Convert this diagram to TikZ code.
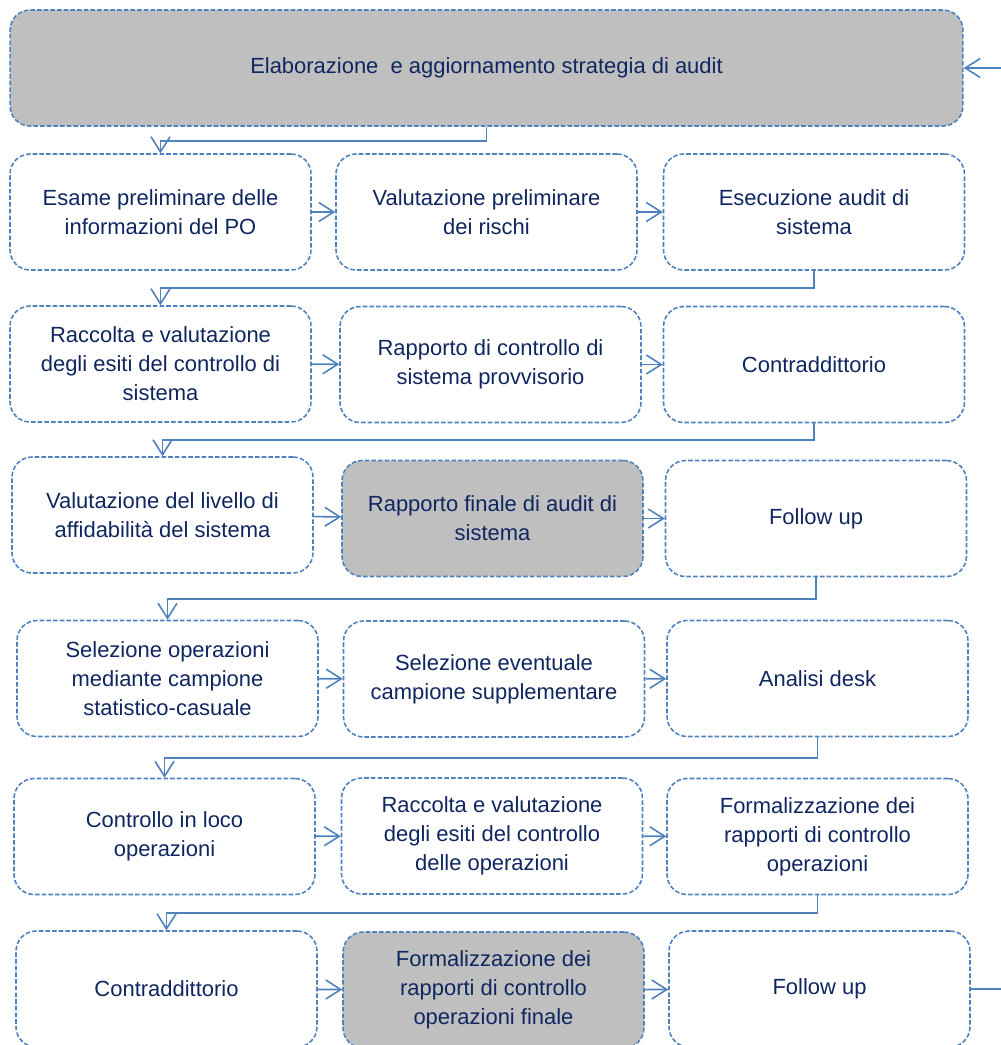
\documentclass[tikz,border=0pt]{standalone}
\usepackage{fontspec}
\setmainfont{Liberation Sans}
\usetikzlibrary{arrows.meta}
\definecolor{boxline}{HTML}{4F81BD}
\definecolor{boxtext}{HTML}{0F2660}
\definecolor{boxfill}{HTML}{BFBFBF}

\begin{document}
\begin{tikzpicture}[x=0.02cm, y=-0.02cm]
\tikzset{box/.style = {shape=rectangle, rounded corners=0.4cm, draw=boxline, line width=0.9pt, dash pattern=on 2.6pt off 1.2pt, minimum width=6.02cm, minimum height=2.32cm, align=center, text=boxtext, font=\fontsize{12.5}{16.5}\selectfont}}
\tikzset{grey/.style = {box, fill=boxfill}}
\tikzset{edge/.style = {draw=boxline, line width=0.9pt, -{Straight Barb[length=0.3cm, width=0.38cm]}}}

\useasboundingbox (0,0) rectangle (1001,1045);
\clip (0,0) rectangle (1001,1045);

\node[grey, minimum width=19.06cm] (S) at (486.5,68) {Elaborazione\ \ e aggiornamento strategia di audit};

\node[box] (A1) at (160.5,212) {Esame preliminare delle\\informazioni del PO};
\node[box] (A2) at (486.5,212) {Valutazione preliminare\\dei rischi};
\node[box] (A3) at (814,212)   {Esecuzione audit di\\sistema};

\node[box] (B1) at (160.5,364)   {Raccolta e valutazione\\degli esiti del controllo di\\sistema};
\node[box] (B2) at (490.5,364.5) {Rapporto di controllo di\\sistema provvisorio};
\node[box] (B3) at (814,364.5)   {Contraddittorio};

\node[box]  (C1) at (162.5,515)   {Valutazione del livello di\\affidabilità del sistema};
\node[grey] (C2) at (492.5,518.5) {Rapporto finale di audit di\\sistema};
\node[box]  (C3) at (816,518.5)   {Follow up};

\node[box] (D1) at (167.5,678.5) {Selezione operazioni\\mediante campione\\statistico-casuale};
\node[box] (D2) at (494,679)     {Selezione eventuale\\campione supplementare};
\node[box] (D3) at (817.5,678.5) {Analisi desk};

\node[box] (E1) at (164.5,836.5) {Controllo in loco\\operazioni};
\node[box] (E2) at (492,836)     {Raccolta e valutazione\\degli esiti del controllo\\delle operazioni};
\node[box] (E3) at (817.5,836.5) {Formalizzazione dei\\rapporti di controllo\\operazioni};

\node[box]  (F1) at (166.5,989) {Contraddittorio};
\node[grey] (F2) at (493.5,990) {Formalizzazione dei\\rapporti di controllo\\operazioni finale};
\node[box]  (F3) at (819.5,989) {Follow up};

%edges
\draw[edge] (S.south) -- ++(0,14.5) -| (A1.north);
\draw[edge] (A1) -- (A2);
\draw[edge] (A2) -- (A3);
\draw[edge] (A3.south) -- ++(0,17.5) -| (B1.north);
\draw[edge] (B1) -- (B2);
\draw[edge] (B2) -- (B3);
\draw[edge] (B3.south) -- ++(0,17) -| (C1.north);
\draw[edge] (C1) -- (C2);
\draw[edge] (C2) -- (C3);
\draw[edge] (C3.south) -- ++(0,22) -| (D1.north);
\draw[edge] (D1) -- (D2);
\draw[edge] (D2) -- (D3);
\draw[edge] (D3.south) -- ++(0,21) -| (E1.north);
\draw[edge] (E1) -- (E2);
\draw[edge] (E2) -- (E3);
\draw[edge] (E3.south) -- ++(0,18) -| (F1.north);
\draw[edge] (F1) -- (F2);
\draw[edge] (F2) -- (F3);
\draw[edge] (F3.east) -- ++(40,0) |- (S.east);

\end{tikzpicture}
\end{document}
